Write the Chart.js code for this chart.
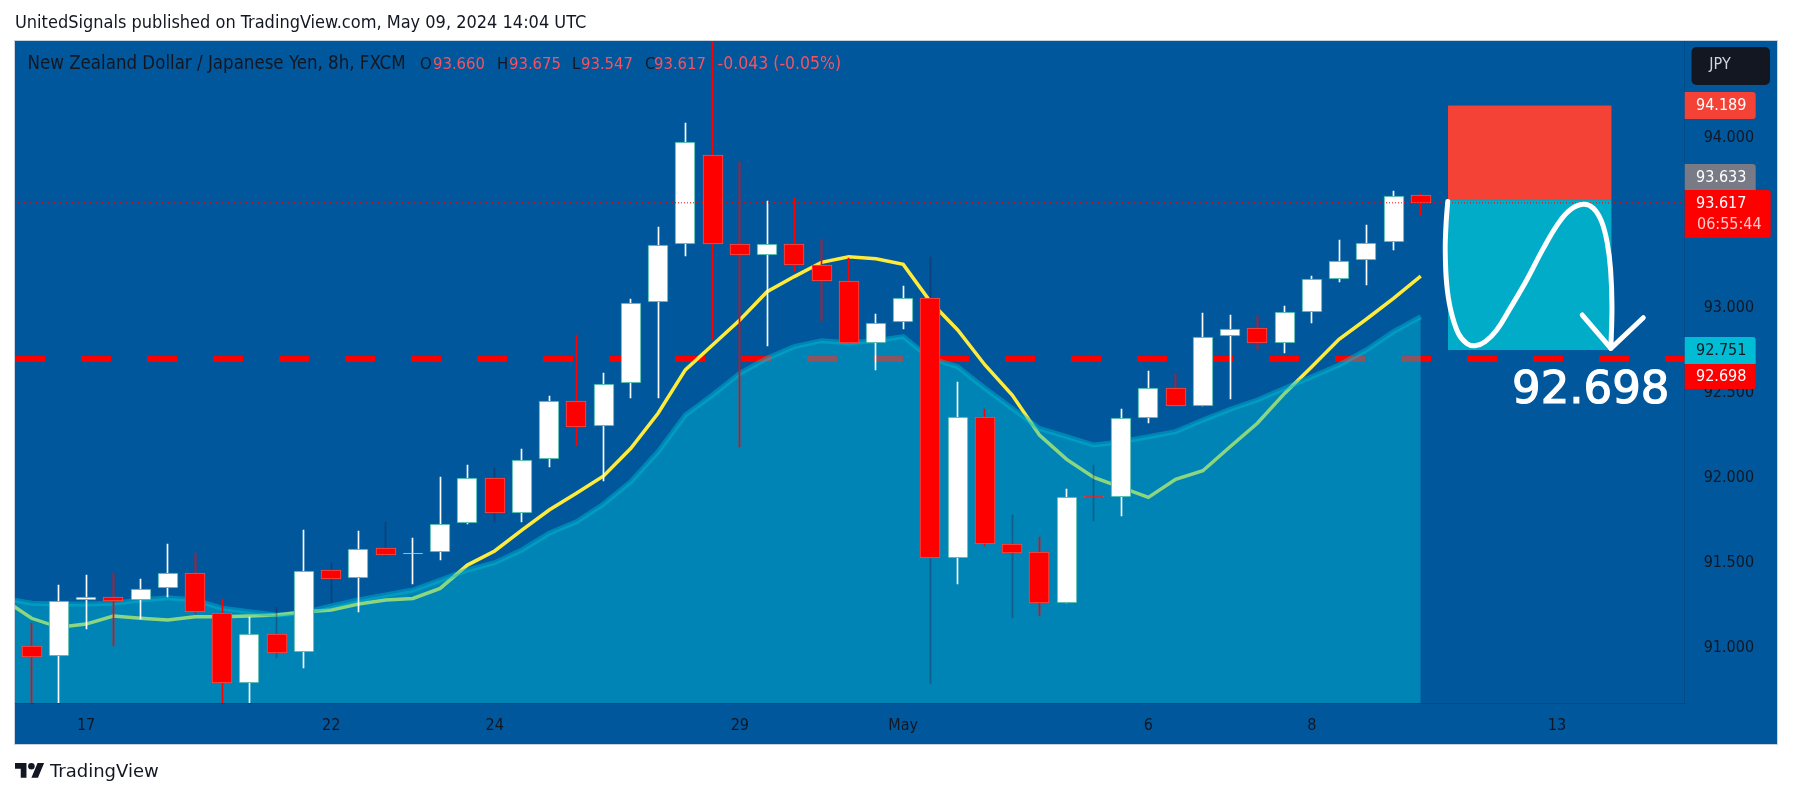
<!DOCTYPE html>
<html>
<head>
<meta charset="utf-8">
<style>html,body{margin:0;padding:0;background:#fff}canvas{display:block}</style>
<script src="https://cdn.jsdelivr.net/npm/chart.js@4"></script>
</head>
<body>
<canvas id="c" width="1793" height="798"></canvas>
<script>
const tickIndexes = [2, 11, 17, 26, 32, 41, 47, 56];
const tickLabels = ['17', '22', '24', '29', 'May', '6', '8', '13'];
const priceTicks = [91, 91.5, 92, 92.5, 93, 94];

const opens = [91.012,90.949,91.279,91.296,91.279,91.349,91.441,91.206,90.790,91.082,90.973,91.455,91.408,91.584,91.549,91.561,91.732,92.000,91.794,92.108,92.449,92.304,92.555,93.032,93.373,93.896,93.373,93.308,93.377,93.249,93.159,92.790,92.914,93.055,91.526,92.355,91.608,91.561,91.261,91.892,91.884,92.349,92.526,92.424,92.832,92.879,92.790,92.977,93.167,93.279,93.385,93.660];
const closes = [90.947,91.277,91.296,91.277,91.347,91.441,91.208,90.790,91.082,90.971,91.453,91.406,91.582,91.547,91.559,91.730,92.000,91.794,92.106,92.449,92.300,92.553,93.030,93.371,93.977,93.373,93.308,93.377,93.249,93.159,92.790,92.912,93.055,91.526,92.355,91.608,91.559,91.261,91.888,91.885,92.349,92.526,92.424,92.830,92.877,92.790,92.977,93.167,93.277,93.383,93.659,93.617];
const highs = [91.147,91.369,91.428,91.437,91.404,91.610,91.555,91.284,91.182,91.241,91.692,91.500,91.686,91.741,91.645,92.004,92.075,92.065,92.169,92.481,92.839,92.614,93.051,93.473,94.086,94.600,93.859,93.628,93.643,93.404,93.290,92.963,93.128,93.300,92.561,92.404,91.781,91.649,91.933,92.075,92.404,92.630,92.610,92.971,92.957,92.953,93.010,93.186,93.398,93.486,93.686,93.675];
const lows = [90.600,90.670,91.110,91.010,91.169,91.300,91.200,90.670,90.670,90.937,90.881,91.260,91.210,91.540,91.375,91.516,91.730,91.740,91.739,92.065,92.186,91.982,92.467,92.470,93.304,92.810,92.182,92.777,93.218,92.924,92.790,92.634,92.875,90.786,91.375,91.600,91.173,91.186,91.261,91.747,91.775,92.320,92.424,92.424,92.460,92.751,92.735,92.912,93.151,93.134,93.339,93.547];
const faintWicks = [9, 11, 13, 17, 33, 36, 39];

const maIndexes = [-1,0,1,2,3,4,5,6,7,8,9,10,11,12,13,14,15,16,17,18,19,20,21,22,23,24,25,26,27,28,29,30,31,32,33,34,35,36,37,38,39,40,41,42,43,44,45,46,47,48,49,50,51];
const fastMa = [91.281,91.173,91.120,91.139,91.186,91.173,91.163,91.182,91.182,91.186,91.192,91.210,91.222,91.257,91.281,91.290,91.349,91.486,91.569,91.692,91.810,91.908,92.010,92.173,92.379,92.634,92.781,92.928,93.094,93.183,93.267,93.300,93.288,93.255,93.035,92.869,92.663,92.486,92.251,92.108,92.002,91.943,91.884,91.990,92.041,92.182,92.320,92.496,92.653,92.814,92.932,93.055,93.186];
const slowMa = [91.290,91.261,91.257,91.257,91.261,91.281,91.294,91.281,91.232,91.212,91.192,91.206,91.245,91.281,91.310,91.339,91.398,91.457,91.500,91.575,91.673,91.741,91.845,91.977,92.153,92.369,92.486,92.614,92.702,92.771,92.806,92.794,92.806,92.830,92.702,92.653,92.526,92.408,92.290,92.241,92.192,92.212,92.241,92.271,92.339,92.402,92.457,92.526,92.594,92.663,92.751,92.859,92.947];

const supportLevel = 92.698;
const lastClose = 93.617;
const stopTop = 94.189;
const entryLevel = 93.633;
const targetLevel = 92.751;
const positionFrom = 52;
const positionTo = 58;
const drawingX = [51.99,51.93,51.90,51.95,52.10,52.38,52.69,52.99,53.36,53.79,54.28,54.89,55.50,56.05,56.48,56.97,57.34,57.64,57.85,57.97,58.02,57.98];
const drawingY = [93.624,93.496,93.339,93.143,92.986,92.849,92.790,92.776,92.800,92.869,92.996,93.163,93.349,93.496,93.575,93.608,93.584,93.506,93.378,93.222,93.006,92.761];
const arrowX = [56.93,57.98,59.17];
const arrowY = [92.957,92.761,92.941];

const xMin = -0.609, xMax = 60.69, yMin = 90.6747, yMax = 94.5688;
const DARK = '#131722', UI = '"DejaVu Sans Condensed", "DejaVu Sans", sans-serif';

const isUp = i => closes[i] >= opens[i];
const pts = (xs, ys) => xs.map((x, i) => ({x, y: ys[i]}));

const pane = {
  id: 'pane',
  beforeDraw(ch) {
    const c = ch.ctx;
    c.save();
    c.fillStyle = '#fff';
    c.fillRect(0, 0, 1793, 798);
    c.fillStyle = '#01579B';
    c.fillRect(15, 41, 1762.5, 703);
    c.strokeStyle = '#c9d3df';
    c.lineWidth = 1;
    c.strokeRect(14.5, 40.5, 1763, 704);
    c.restore();
  },
  beforeDatasetsDraw(ch) {
    const c = ch.ctx, sx = ch.scales.x, sy = ch.scales.y;
    const x0 = sx.getPixelForValue(positionFrom), x1 = sx.getPixelForValue(positionTo);
    const yT = sy.getPixelForValue(stopTop), yM = sy.getPixelForValue(entryLevel), yB = sy.getPixelForValue(targetLevel);
    c.save();
    c.fillStyle = '#F44336';
    c.fillRect(x0, yT, x1 - x0, yM - yT);
    c.fillStyle = '#00ACC8';
    c.fillRect(x0, yM, x1 - x0, yB - yM);
    c.restore();
    ch.getSortedVisibleDatasetMetas().forEach(m => {
      if (m.type !== 'bar') return;
      const thin = ch.data.datasets[m.index].barThickness === 1;
      m.data.forEach(el => {
        el.x = thin ? Math.floor(el.x) + 0.5 : Math.round(el.x);
        el.y = Math.round(el.y);
        el.base = Math.round(el.base);
      });
    });
  },
  afterDraw(ch) {
    const c = ch.ctx;
    c.save();
    c.textBaseline = 'middle';
    const text = (s, x, y, col, font, align) => {
      c.font = font || '16px ' + UI;
      c.fillStyle = col;
      c.textAlign = align || 'left';
      c.fillText(s, x, y);
    };
    text('UnitedSignals published on TradingView.com, May 09, 2024 14:04 UTC', 15, 23, DARK, '18px ' + UI);

    const red = '#F7525F';
    text('New Zealand Dollar / Japanese Yen, 8h, FXCM', 27.5, 64.5, DARK, '18.55px ' + UI);
    [['O', 420, DARK], ['93.660', 433, red], ['H', 497, DARK],
     ['93.675', 509, red], ['L', 572, DARK], ['93.547', 581, red], ['C', 645, DARK], ['93.617', 654, red]]
      .forEach(t => text(t[0], t[1], 64.5, t[2], '16.5px ' + UI));
    text('-0.043 (-0.05%)', 717.5, 64.5, red, '17.5px ' + UI);

    const box = (x, y, w, h, col, r) => {
      c.fillStyle = col;
      c.beginPath();
      c.roundRect(x, y, w, h, r);
      c.fill();
    };
    const lx = 1696;
    box(1691.5, 47, 78.5, 38, DARK, 5);
    text('JPY', 1720, 65, '#d1d4dc', '16px ' + UI, 'center');

    box(1684.7, 92, 71, 27, '#F44336', [0, 3, 3, 0]);
    text('94.189', lx, 106, '#fff');
    box(1684.7, 164, 71, 26, '#787B86', [0, 3, 0, 0]);
    text('93.633', lx, 177.5, '#fff');
    box(1684.7, 190, 86, 48, '#FF0000', [0, 3, 3, 0]);
    text('93.617', lx, 203.5, '#fff');
    text('06:55:44', 1697, 225, '#ffc9c9');
    box(1684.7, 337, 71, 27, '#00BCD4', [0, 3, 0, 0]);
    text('92.751', lx, 350.5, DARK);
    box(1684.7, 364, 71, 25, '#FF0000', [0, 0, 3, 0]);
    text('92.698', lx, 376.5, '#fff');

    c.textBaseline = 'alphabetic';
    c.font = '45px "DejaVu Sans", sans-serif';
    c.fillStyle = '#fff';
    c.strokeStyle = '#fff';
    c.lineWidth = 1.2;
    c.textAlign = 'left';
    c.fillText(supportLevel.toFixed(3), 1512, 403);
    c.strokeText(supportLevel.toFixed(3), 1512, 403);
    c.textBaseline = 'middle';

    const s = 0.82, ox = 15, oy = 759.7;
    c.fillStyle = DARK;
    c.translate(ox, oy);
    c.scale(s, s);
    c.fill(new Path2D('M14 22H7V11H0V4h14v18zM28 22h-8l7.5-18h8L28 22z'));
    c.beginPath();
    c.arc(20, 8, 4, 0, Math.PI * 2);
    c.fill();
    c.setTransform(1, 0, 0, 1, 0, 0);
    text('TradingView', 50, 772.5, DARK, '500 18px "DejaVu Sans", sans-serif');
    c.restore();
  }
};

new Chart(document.getElementById('c'), {
  type: 'bar',
  data: {
    datasets: [
      {type: 'line', order: 10, data: pts([xMin, xMax], [supportLevel, supportLevel]), borderColor: '#FF0000', borderWidth: 6, borderDash: [30, 36], pointRadius: 0},
      {type: 'line', order: 9, data: pts(maIndexes, fastMa), borderColor: '#FFEB3B', borderWidth: 3.5, pointRadius: 0, tension: 0},
      {type: 'line', order: 8, data: pts(maIndexes, slowMa), borderColor: 'rgba(0,188,212,0.45)', backgroundColor: 'rgba(0,188,212,0.45)', borderWidth: 5, pointRadius: 0, tension: 0, fill: 'start'},
      {type: 'bar', order: 7, grouped: false, barThickness: 1, data: opens.map((o, i) => ({x: i, y: [lows[i], highs[i]]})),
        backgroundColor: opens.map((o, i) => faintWicks.includes(i) ? 'rgba(50,20,60,0.35)' : (isUp(i) ? '#FFFFFF' : '#FF0000'))},
      {type: 'bar', order: 6, grouped: false, barThickness: 20, borderWidth: 1, borderSkipped: false,
        data: opens.map((o, i) => ({x: i, y: [Math.min(o, closes[i]), Math.max(o, closes[i])]})),
        backgroundColor: opens.map((o, i) => isUp(i) ? '#FFFFFF' : '#FF0000'),
        borderColor: opens.map((o, i) => isUp(i) ? '#26A69A' : '#EF5350')},
      {type: 'line', order: 5, data: pts([xMin, xMax], [lastClose, lastClose]), borderColor: '#FF0000', borderWidth: 1, borderDash: [1, 2], pointRadius: 0},
      {type: 'line', order: 2, data: pts(drawingX, drawingY), borderColor: '#FFFFFF', borderWidth: 5, pointRadius: 0, tension: 0.4, borderCapStyle: 'round', borderJoinStyle: 'round'},
      {type: 'line', order: 1, data: pts(arrowX, arrowY), borderColor: '#FFFFFF', borderWidth: 5, pointRadius: 0, tension: 0, borderCapStyle: 'round', borderJoinStyle: 'round'}
    ]
  },
  options: {
    responsive: false,
    animation: false,
    devicePixelRatio: 1,
    layout: {padding: {left: 15, right: 15.5, top: 41, bottom: 54}},
    plugins: {legend: {display: false}, tooltip: {enabled: false}},
    scales: {
      x: {
        type: 'linear', offset: false, min: xMin, max: xMax,
        grid: {display: false},
        border: {display: true, color: 'rgba(0,0,0,0.12)'},
        afterBuildTicks: s => { s.ticks = tickIndexes.map(v => ({value: v})); },
        afterFit: s => { s.height = 41; },
        ticks: {color: DARK, font: {family: 'DejaVu Sans Condensed', size: 16}, maxRotation: 0, autoSkip: false, padding: 5,
          callback: v => tickLabels[tickIndexes.indexOf(v)]}
      },
      y: {
        position: 'right', min: yMin, max: yMax,
        grid: {display: false},
        border: {display: true, color: 'rgba(0,0,0,0.12)'},
        afterBuildTicks: s => { s.ticks = priceTicks.map(v => ({value: v})); },
        afterFit: s => { s.width = 92.8; },
        ticks: {color: DARK, font: {family: 'DejaVu Sans Condensed', size: 16}, padding: 11, autoSkip: false,
          callback: v => v.toFixed(3)}
      }
    }
  },
  plugins: [pane]
});
</script>
</body>
</html>
